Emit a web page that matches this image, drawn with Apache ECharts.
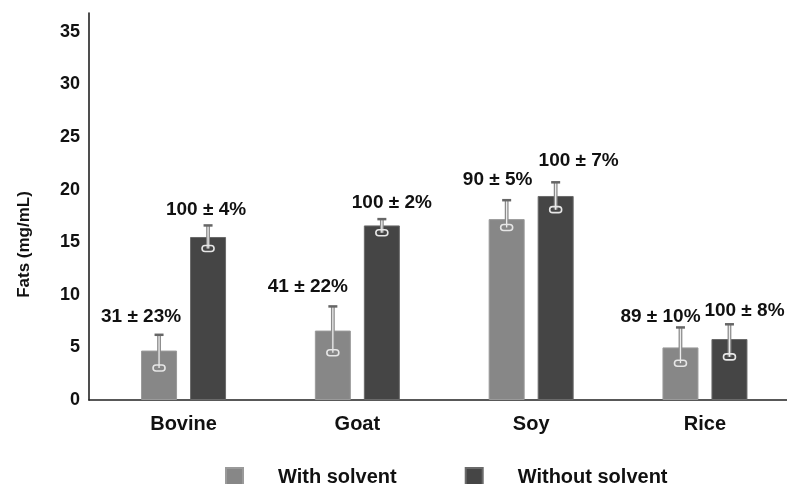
<!DOCTYPE html>
<html>
<head>
<meta charset="utf-8">
<script src="https://cdn.jsdelivr.net/npm/echarts@6/dist/echarts.min.js"></script>
<style>
  html, body { margin: 0; padding: 0; background: #fff; }
  #chart { width: 787px; height: 484px; }
</style>
</head>
<body>
<div id="chart"></div>
<script>
// data
const categories = ['Bovine', 'Goat', 'Soy', 'Rice'];
const withSolvent = [4.7, 6.6, 17.2, 5.0];
const withSolventErrUp = [1.5, 2.3, 1.8, 1.9];
const withSolventErrDown = [1.65, 2.1, 0.8, 1.5];
const withoutSolvent = [15.5, 16.6, 19.4, 5.8];
const withoutSolventErrUp = [1.1, 0.6, 1.3, 1.4];
const withoutSolventErrDown = [1.1, 0.7, 1.3, 1.7];
// recovery text over the bars (%)
const withRecovery = [31, 41, 90, 89];
const withRecoveryErr = [23, 22, 5, 10];
const withoutRecovery = [100, 100, 100, 100];
const withoutRecoveryErr = [4, 2, 7, 8];
const yTicks = [0, 5, 10, 15, 20, 25, 30, 35];

// layout tweaks (px) for the recovery labels, relative to the error bar top
const shiftWith = [[-18, -18], [-25, -20], [-9, -20], [-20, -11]];
const shiftWithout = [[-2, -16], [10, -16], [23, -22], [15, -14]];

const FONT = '"Liberation Sans", Arial, sans-serif';
const barWidth = 36;
const barGapPx = 13;
const half = (barWidth + barGapPx) / 2;

const chart = echarts.init(document.getElementById('chart'));

function errData (vals, up, down, rec, recErr) {
  return vals.map((v, i) => [i, v, v + up[i], v - down[i], rec[i] + ' \u00b1 ' + recErr[i] + '%'])
}

function errRender (offset, shifts) {
  return function (params, api) {
    const i = api.value(0)
    const p = api.coord([i, api.value(1)])
    const x = p[0] + offset
    const yTop = api.coord([i, api.value(2)])[1]
    const yLow = api.coord([i, api.value(3)])[1]
    const s = shifts[params.dataIndex]
    return {
      type: 'group',
      children: [
        { type: 'line', shape: { x1: x, y1: yLow, x2: x, y2: yTop }, style: { stroke: '#8a8a8a', lineWidth: 3.8 } },
        { type: 'line', shape: { x1: x, y1: yLow, x2: x, y2: yTop }, style: { stroke: '#ececec', lineWidth: 1.3 } },
        { type: 'line', shape: { x1: x - 4.5, y1: yTop, x2: x + 4.5, y2: yTop }, style: { stroke: '#666', lineWidth: 2.5 } },
        { type: 'rect', shape: { x: x - 6, y: yLow - 3, width: 12, height: 6, r: 3 }, style: { fill: null, stroke: '#e6e6e6', lineWidth: 1.6 } },
        {
          type: 'text', x: x + s[0], y: yTop + s[1],
          style: { text: api.value(4), fill: '#111', fontSize: 19, fontWeight: 'bold', fontFamily: FONT, align: 'center', verticalAlign: 'middle' }
        }
      ]
    }
  }
}

chart.setOption({
  animation: false,
  backgroundColor: '#fff',
  grid: { left: 89, right: 0, top: 13, bottom: 84 },
  legend: {
    data: ['With solvent', 'Without solvent'],
    left: 225,
    top: 467,
    padding: 0,
    icon: 'rect',
    itemWidth: 17,
    itemHeight: 18,
    itemGap: 68,
    textStyle: { fontSize: 20, fontWeight: 'bold', color: '#111', fontFamily: FONT, padding: [0, 0, 0, 30] }
  },
  xAxis: {
    type: 'value',
    min: -0.544,
    max: 3.472,
    splitLine: { show: false },
    axisTick: { show: false },
    axisLine: { show: true, onZero: false, lineStyle: { color: '#222', width: 1.6 } },
    axisLabel: {
      customValues: [0, 1, 2, 3],
      formatter: (v) => categories[v],
      margin: 14,
      fontSize: 20,
      fontWeight: 'bold',
      color: '#111',
      fontFamily: FONT
    }
  },
  yAxis: {
    type: 'value',
    min: 0,
    max: 36.8,
    name: 'Fats (mg/mL)',
    nameLocation: 'middle',
    nameGap: 56,
    nameRotate: 90,
    nameTextStyle: { fontSize: 17, fontWeight: 'bold', color: '#111', fontFamily: FONT, padding: [0, 76, 0, 0] },
    splitLine: { show: false },
    axisTick: { show: false },
    axisLine: { show: true, onZero: false, lineStyle: { color: '#222', width: 1.6 } },
    axisLabel: { customValues: yTicks, margin: 9, fontSize: 18, fontWeight: 'bold', color: '#111', fontFamily: FONT }
  },
  series: [
    {
      name: 'With solvent',
      type: 'bar',
      barWidth: barWidth,
      barGap: (barGapPx / barWidth * 100) + '%',
      itemStyle: { color: '#878787', borderColor: '#9a9a9a', borderWidth: 1 },
      data: withSolvent.map((v, i) => [i, v])
    },
    {
      name: 'Without solvent',
      type: 'bar',
      barWidth: barWidth,
      itemStyle: { color: '#454545', borderColor: '#6a6a6a', borderWidth: 1 },
      data: withoutSolvent.map((v, i) => [i, v])
    },
    {
      name: 'errWith',
      type: 'custom',
      z: 5,
      renderItem: errRender(-half, shiftWith),
      data: errData(withSolvent, withSolventErrUp, withSolventErrDown, withRecovery, withRecoveryErr)
    },
    {
      name: 'errWithout',
      type: 'custom',
      z: 5,
      renderItem: errRender(half, shiftWithout),
      data: errData(withoutSolvent, withoutSolventErrUp, withoutSolventErrDown, withoutRecovery, withoutRecoveryErr)
    }
  ]
})
</script>
</body>
</html>
